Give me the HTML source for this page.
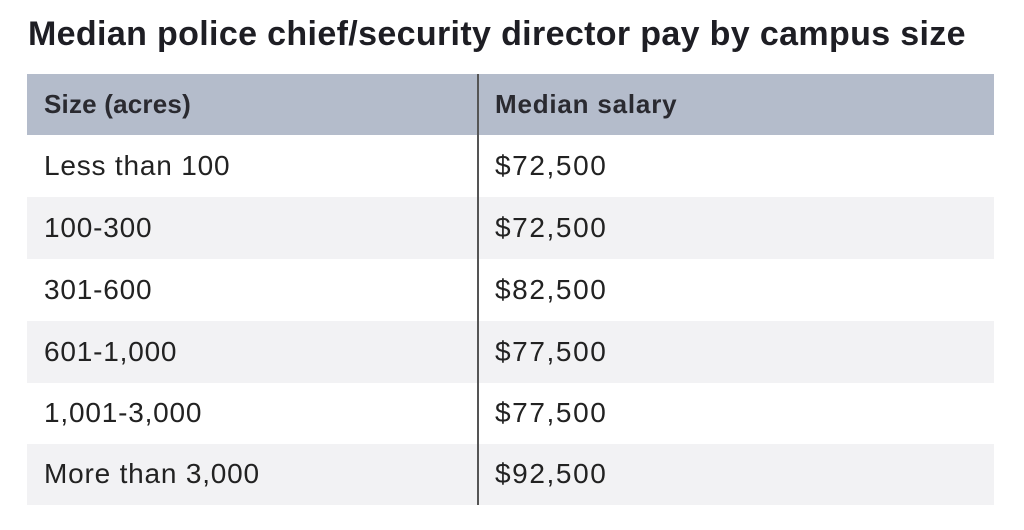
<!DOCTYPE html>
<html><head><style>
body{margin:0;width:1024px;height:530px;background:#fff;font-family:"Liberation Sans",sans-serif;position:relative;overflow:hidden;color:#222}
.t{position:absolute;left:28px;top:15px;font-size:34px;font-weight:bold;color:#1e1e24;letter-spacing:0.35px}
.r{position:absolute;left:27px;width:967px;height:62px;font-size:28px;line-height:62px}
.r span{position:absolute}
.a{left:17px;letter-spacing:0.8px}.b{left:468px;letter-spacing:1.6px}
.h{background:#b4bccb;font-weight:bold;color:#2a2a30;height:61px;line-height:60px;font-size:26px}
.h .b{letter-spacing:0.8px}.h .a{letter-spacing:0.2px}
.s{background:#f2f2f4}
.d{position:absolute;left:477px;top:74px;width:2px;height:431px;background:#555}
</style></head><body>
<div class="t">Median police chief/security director pay by campus size</div>
<div class="r h" style="top:74px"><span class="a">Size (acres)</span><span class="b">Median salary</span></div>
<div class="r" style="top:135px"><span class="a">Less than 100</span><span class="b">$72,500</span></div>
<div class="r s" style="top:197px"><span class="a">100-300</span><span class="b">$72,500</span></div>
<div class="r" style="top:259px"><span class="a">301-600</span><span class="b">$82,500</span></div>
<div class="r s" style="top:321px"><span class="a">601-1,000</span><span class="b">$77,500</span></div>
<div class="r" style="top:382px"><span class="a">1,001-3,000</span><span class="b">$77,500</span></div>
<div class="r s" style="top:444px;height:61px;line-height:60px"><span class="a">More than 3,000</span><span class="b">$92,500</span></div>
<div class="d"></div>
</body></html>
